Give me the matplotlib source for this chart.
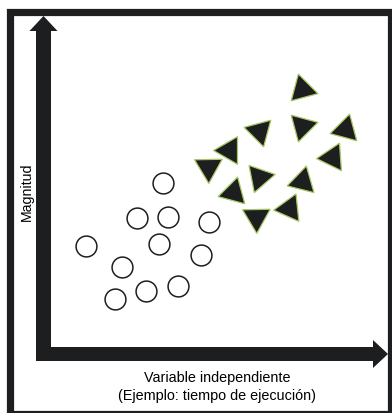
import matplotlib
matplotlib.use('Agg')
import matplotlib.pyplot as plt
from matplotlib.patches import FancyArrow, Rectangle

plt.rcParams['font.family'] = ['Liberation Sans', 'DejaVu Sans']

# open circles (x, y)
circle_x = [120, 94, 125, 166, 43, 116, 158, 79, 135, 103, 72]
circle_y = [171, 136, 137, 132, 108, 110, 99, 87, 68, 63, 55]

# black triangles (x, y, rotation in degrees)
tri_x = [259, 259, 302, 216, 186, 289, 165, 216, 259, 190, 213, 246]
tri_y = [265, 228, 225, 223, 204, 197, 187, 177, 173, 162, 137, 146]
tri_rot = [15, 45, -15, 75, 90, 94, 61, 41, -14, -15, 61, 96]

x_label = 'Variable independiente'
x_label2 = '(Ejemplo: tiempo de ejecución)'
y_label = 'Magnitud'

dark = '#1d1e20'
edge_green = '#a8c864'

fig = plt.figure(figsize=(3.92, 4.13), dpi=100)
ax = fig.add_axes([0, 0, 1, 1])
ax.set_xlim(-43, 349)
ax.set_ylim(-59, 354)
ax.axis('off')

# frame around the whole picture
ax.add_patch(Rectangle((-33.5, -59.5), 382, 402, fill=False,
                       edgecolor=dark, linewidth=5.2, clip_on=False))

# axis arrows
ax.add_patch(FancyArrow(0.5, -7, 0, 345, width=15, head_width=28,
                        head_length=15, length_includes_head=True,
                        color=dark, linewidth=0))
ax.add_patch(FancyArrow(-7, 0, 352, 0, width=14, head_width=28,
                        head_length=15, length_includes_head=True,
                        color=dark, linewidth=0))

ax.plot(circle_x, circle_y, 'o', markersize=15, markerfacecolor='white',
        markeredgecolor=dark, markeredgewidth=1.1, linestyle='none')

for x, y, r in zip(tri_x, tri_y, tri_rot):
    ax.plot(x, y, marker=(3, 0, r), markersize=23, markerfacecolor=dark,
            markeredgecolor=edge_green, markeredgewidth=0.9, linestyle='none')

ax.text(-16, 162, y_label, rotation=90, ha='center', va='center', fontsize=10.2)
ax.text(174, -24, x_label, ha='center', va='center', fontsize=10.4)
ax.text(174, -42, x_label2, ha='center', va='center', fontsize=10.4)

fig.savefig('out.png', dpi=100)
